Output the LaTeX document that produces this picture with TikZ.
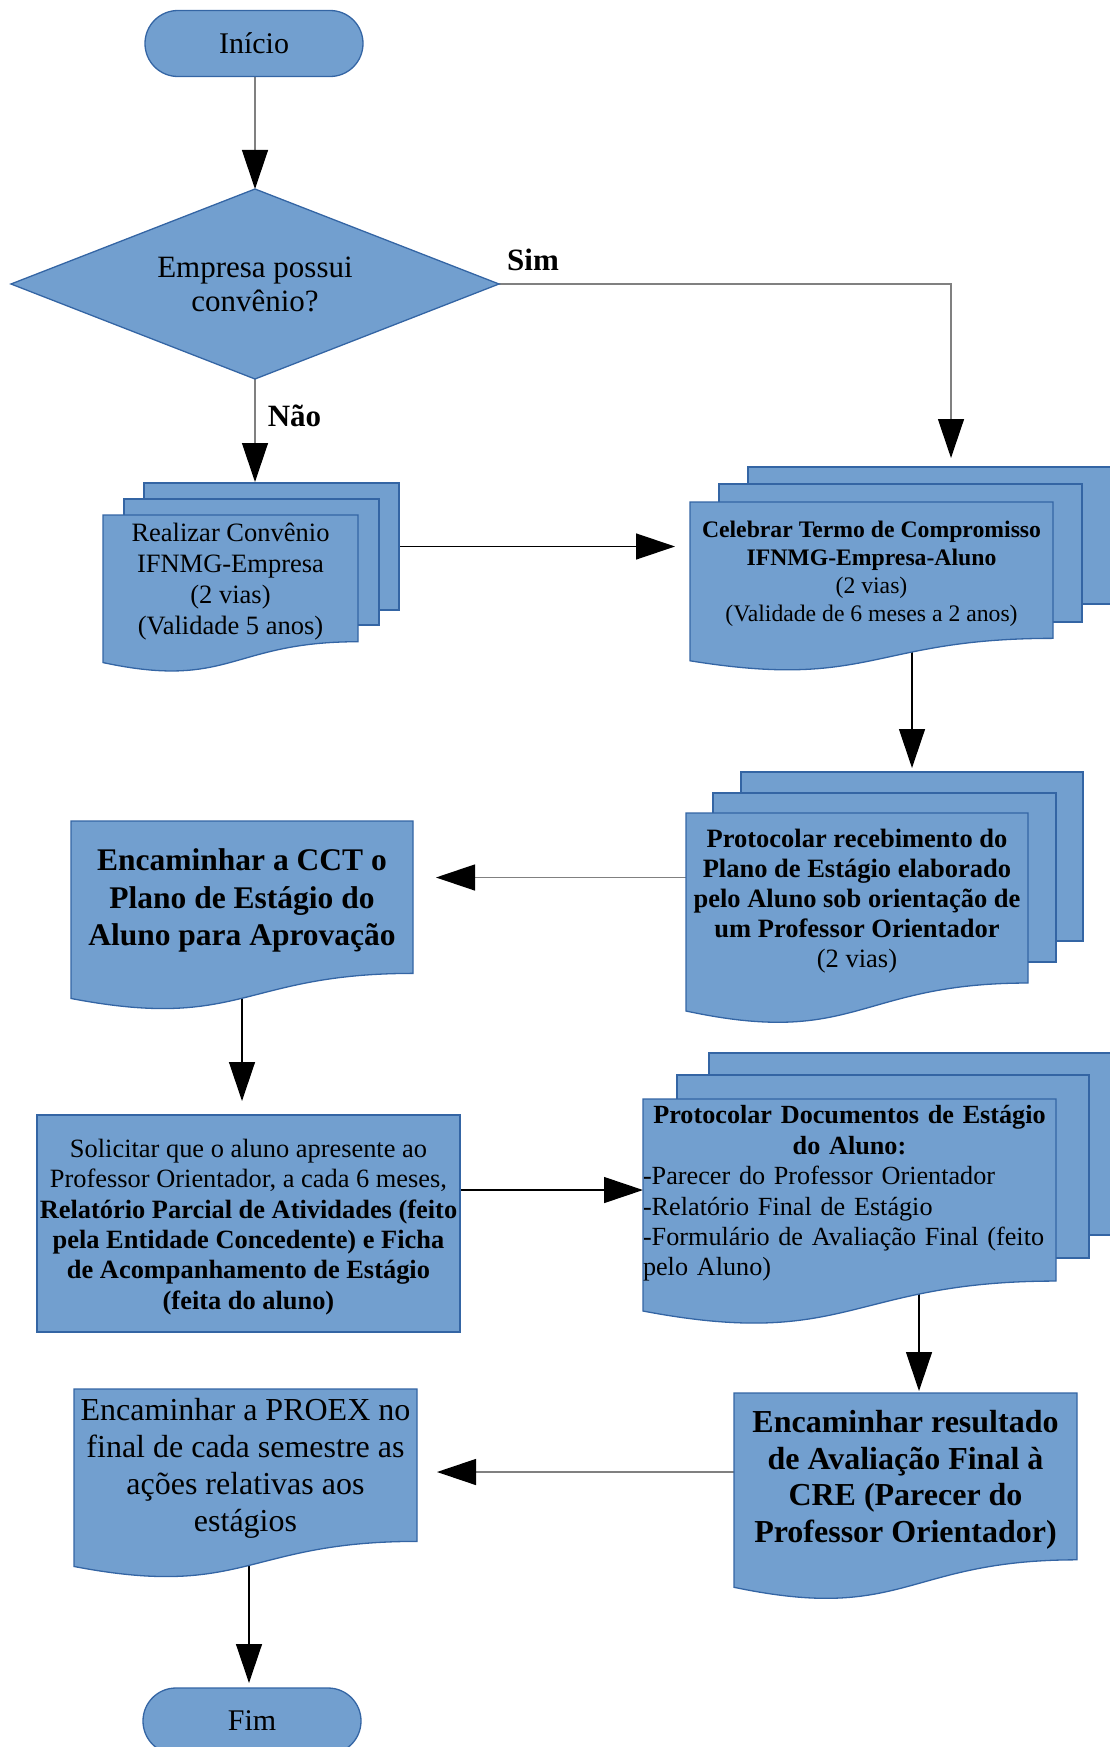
\documentclass[tikz,border=0pt]{standalone}
\usepackage{fontspec}
\setmainfont{Liberation Serif}
\usetikzlibrary{arrows.meta,calc,shapes.geometric}
\definecolor{fillblue}{RGB}{114,159,207}
\definecolor{lineblue}{RGB}{52,101,164}
\definecolor{conngray}{RGB}{128,128,128}
\newcommand\fsz[2]{\fontsize{#1}{#2}\selectfont}
\newcommand\docpath[1]{%
  \path[shp] let \p1=(#1.north west), \p2=(#1.south east) in
    (\p1) -- (\x2,\y1) -- (\x2,{\y1+0.802*(\y2-\y1)})
    .. controls ({0.5*(\x1+\x2)},{\y1+0.802*(\y2-\y1)}) and ({0.5*(\x1+\x2)},{\y1+1.107*(\y2-\y1)}) ..
    (\x1,{\y1+0.934*(\y2-\y1)}) -- cycle;}
\newcommand\sheetpath[1]{\path[shp] (#1.north west) rectangle (#1.south east);}
\begin{document}
\begin{tikzpicture}[x=1pt,y=-1pt,
  place/.style={rectangle, inner sep=0pt, outer sep=0pt},
  shp/.style={fill=fillblue, draw=lineblue, line width=1.3pt},
  txt/.style={inner sep=0pt, outer sep=0pt, align=center, text=black},
  boxtxt/.style={txt, yshift=-3.5pt},
  arr/.style={line width=1.3pt, -{Triangle[length=39pt,width=26pt,color=black]}},
  gline/.style={arr, draw=conngray},
  kline/.style={arr, draw=black}]
\useasboundingbox (0,0) rectangle (1109,1747);

% ---------- placement nodes ----------
\node[place, minimum width=218pt, minimum height=66pt] (inicio) at (254,43.5) {};
\node[place, diamond, minimum width=488pt, minimum height=190pt] (dec) at (255,284) {};
% Realizar stack
\node[place, minimum width=255pt, minimum height=127pt] (realizar3) at (271.5,546.5) {};
\node[place, minimum width=255pt, minimum height=126pt] (realizar2) at (251.5,562) {};
\node[place, minimum width=255pt, minimum height=158pt] (realizar) at (230.5,594) {};
% Celebrar stack
\node[place, minimum width=363pt, minimum height=137pt] (celebrar3) at (929.5,535.5) {};
\node[place, minimum width=363pt, minimum height=138pt] (celebrar2) at (900.5,553) {};
\node[place, minimum width=363pt, minimum height=170pt] (celebrar) at (871.5,587) {};
% Protocolar recebimento stack
\node[place, minimum width=342pt, minimum height=169pt] (protrec3) at (912,856.5) {};
\node[place, minimum width=343pt, minimum height=169pt] (protrec2) at (884.5,877.5) {};
\node[place, minimum width=342pt, minimum height=212pt] (protrec) at (857,919) {};
% CCT
\node[place, minimum width=342pt, minimum height=190pt] (cct) at (242,916) {};
% Solicitar
\node[place, minimum width=423pt, minimum height=217pt] (solic) at (248.5,1223.5) {};
% Protocolar documentos stack
\node[place, minimum width=413pt, minimum height=182pt] (protdocs3) at (915.5,1144) {};
\node[place, minimum width=412pt, minimum height=183pt] (protdocs2) at (883,1166.5) {};
\node[place, minimum width=413pt, minimum height=227pt] (protdocs) at (849.5,1212.5) {};
% Encaminhar resultado
\node[place, minimum width=343pt, minimum height=208pt] (encres) at (905.5,1497) {};
% PROEX
\node[place, minimum width=343pt, minimum height=190pt] (proex) at (245.5,1484) {};
% Fim
\node[place, minimum width=218pt, minimum height=66pt] (fim) at (252,1721) {};

\node[place] (protdocsT) at ($(protdocs.north)!0.401!(protdocs.south)$) {};

% ---------- connectors ----------
\draw[gline] (dec.north |- inicio.south) -- (dec.north);
\draw[gline, shorten >=9pt] (dec.east) -| ([xshift=21.5pt]celebrar3.north);
\draw[gline, shorten >=1pt] (dec.south) -- (dec.south |- realizar3.north);
\draw[kline, shorten >=15pt] (realizar3.east) -- (realizar3.east -| celebrar.west);
\draw[kline, shorten >=4pt] (protrec3.north |- celebrar.center) -- (protrec3.north);
\draw[gline, shorten >=23pt] (protrec2.center) -- (protrec2.center -| cct.east);
\draw[kline, shorten >=14pt] (cct.center) -- (cct.center |- solic.north);
\draw[kline] (solic.east |- protdocsT.center) -- (protdocs.west |- protdocsT.center);
\draw[kline, shorten >=2pt] ([xshift=3.5pt]protdocs3.north |- protdocs.center) -- ([xshift=3.5pt]protdocs3.north |- encres.north);
\draw[gline, shorten >=20pt] ([yshift=25pt]encres.west) -- ([yshift=25pt]encres.west -| proex.east);
\draw[kline, shorten >=5pt] ([xshift=-3pt]fim.north |- proex.center) -- ([xshift=-3pt]fim.north);

% ---------- shapes ----------
\path[shp, rounded corners=32.9pt] (inicio.north west) rectangle (inicio.south east);
\path[shp] (dec.north) -- (dec.east) -- (dec.south) -- (dec.west) -- cycle;
\sheetpath{realizar3}\sheetpath{realizar2}\docpath{realizar}
\sheetpath{celebrar3}\sheetpath{celebrar2}\docpath{celebrar}
\sheetpath{protrec3}\sheetpath{protrec2}\docpath{protrec}
\docpath{cct}
\sheetpath{solic}
\sheetpath{protdocs3}\sheetpath{protdocs2}\docpath{protdocs}
\docpath{encres}
\docpath{proex}
\path[shp, rounded corners=32.9pt] (fim.north west) rectangle (fim.south east);

% ---------- texts ----------
\node[txt, font=\fsz{30}{36}] (inicioT) at (inicio.center) {Início};
\node[txt, font=\fsz{31}{34}] (decT) at (dec.center) {Empresa possui\\convênio?};
\node[txt, font=\fsz{31}{36}\bfseries] (simL) at (533,260) {Sim};
\node[txt, font=\fsz{31}{36}\bfseries] (naoL) at (294.5,416) {Não};
\node[boxtxt, font=\fsz{26.5}{31}] (realizarT) at ($(realizar.north)!0.401!(realizar.south)$)
  {Realizar Convênio\\IFNMG-Empresa\\(2 vias)\\(Validade 5 anos)};
\node[boxtxt, font=\fsz{23.7}{28}] (celebrarT) at ($(celebrar.north)!0.401!(celebrar.south)$)
  {\textbf{Celebrar Termo de Compromisso}\\\textbf{IFNMG-Empresa-Aluno}\\(2 vias)\\(Validade de 6 meses a 2 anos)};
\node[boxtxt, font=\fsz{26.5}{30}] (protrecT) at ($(protrec.north)!0.401!(protrec.south)$)
  {\textbf{Protocolar recebimento do}\\\textbf{Plano de Estágio elaborado}\\\textbf{pelo Aluno sob orientação de}\\\textbf{um Professor Orientador}\\(2 vias)};
\node[boxtxt, font=\fsz{31.5}{37.5}\bfseries] (cctT) at ($(cct.north)!0.401!(cct.south)$)
  {Encaminhar a CCT o\\Plano de Estágio do\\Aluno para Aprovação};
\node[boxtxt, font=\fsz{26.4}{30.4}] (solicT) at (solic.center)
  {Solicitar que o aluno apresente ao\\Professor Orientador, a cada 6 meses,\\\textbf{Relatório Parcial de Atividades (feito}\\\textbf{pela Entidade Concedente) e Ficha}\\\textbf{de Acompanhamento de Estágio}\\\textbf{(feita do aluno)}};
\node[inner sep=0pt, outer sep=0pt, yshift=-3.5pt, text width=413pt, font=\fsz{26.2}{30.4}] (protdocsText) at (protdocsT.center)
  {\centering\textbf{Protocolar Documentos de Estágio}\\\textbf{do Aluno:}\par
   \raggedright -Parecer do Professor Orientador\\-Relatório Final de Estágio\\-Formulário de Avaliação Final (feito\\pelo Aluno)\par};
\node[boxtxt, font=\fsz{32}{36.7}\bfseries] (encresT) at ($(encres.north)!0.401!(encres.south)$)
  {Encaminhar resultado\\de Avaliação Final à\\CRE (Parecer do\\Professor Orientador)};
\node[boxtxt, font=\fsz{32}{37}] (proexT) at ($(proex.north)!0.401!(proex.south)$)
  {Encaminhar a PROEX no\\final de cada semestre as\\ações relativas aos\\estágios};
\node[txt, font=\fsz{30}{36}] (fimT) at (fim.center) {Fim};
\end{tikzpicture}
\end{document}
